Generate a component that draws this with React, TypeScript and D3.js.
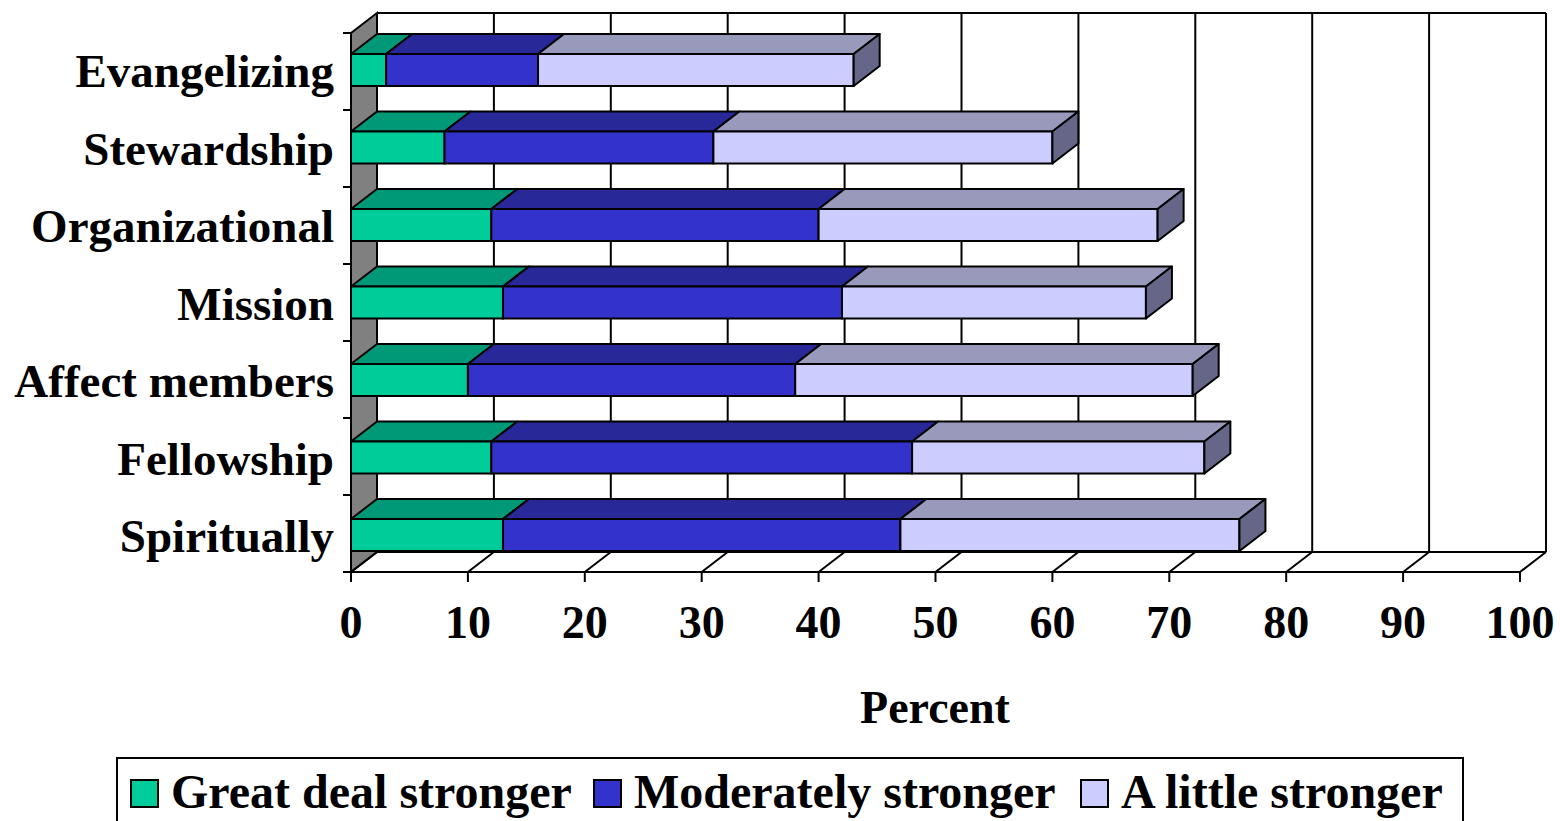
import React from "react";
import * as d3 from "d3";

const categories = ["Evangelizing", "Stewardship", "Organizational", "Mission", "Affect members", "Fellowship", "Spiritually"];
const seriesNames = ["Great deal stronger", "Moderately stronger", "A little stronger"];
const greatDeal = [3, 8, 12, 13, 10, 12, 13];
const moderately = [13, 23, 28, 29, 28, 36, 34];
const aLittle = [27, 29, 29, 26, 34, 25, 29];
const xTicks = [0, 10, 20, 30, 40, 50, 60, 70, 80, 90, 100];

const frontColors = ["#00CC99", "#3333CC", "#CCCCFF"];
const topColors = ["#009977", "#282899", "#9999BB"];
const sideColors = ["#007755", "#1E1E77", "#666688"];

const FONT = "'Liberation Serif', 'Times New Roman', serif";

export default function App() {
  const W = 1560, H = 821;
  const x = d3.scaleLinear().domain([0, 100]).range([351, 1520]);
  const y = d3.scaleBand<string>().domain(categories).range([54, 551]).paddingInner(1 - 32 / 77.5).paddingOuter(0);
  const dx = 26, dy = -20;
  const floorY = 572, wallTop = 33;
  const series = [greatDeal, moderately, aLittle];
  const stacked = d3.stack<number>().keys(["0", "1", "2"]).value((i, k) => series[+k][i])(d3.range(categories.length));
  const poly = (pts: number[][]) => pts.map((p) => p.join(",")).join(" ");
  const catStep = (floorY - wallTop) / categories.length;

  return (
    <svg width={W} height={H} style={{ display: "block", position: "absolute", left: 0, top: 0 }}>
      <rect x={0} y={0} width={W} height={H} fill="#fff" />
      {/* left wall */}
      <polygon points={poly([[351, wallTop], [351 + dx, wallTop + dy], [351 + dx, floorY + dy], [351, floorY]])} fill="#808080" stroke="#000" strokeWidth={2} />
      {/* back wall gridlines */}
      {xTicks.map((t) => (
        <line key={"g" + t} x1={x(t) + dx} x2={x(t) + dx} y1={wallTop + dy} y2={floorY + dy} stroke="#000" strokeWidth={2} />
      ))}
      <line x1={x(0) + dx} x2={x(100) + dx} y1={wallTop + dy} y2={wallTop + dy} stroke="#000" strokeWidth={2} />
      <line x1={x(0) + dx} x2={x(100) + dx} y1={floorY + dy} y2={floorY + dy} stroke="#000" strokeWidth={2} />
      {/* floor lines */}
      {xTicks.map((t) => (
        <line key={"f" + t} x1={x(t)} x2={x(t) + dx} y1={floorY} y2={floorY + dy} stroke="#000" strokeWidth={2} />
      ))}
      <line x1={x(0)} x2={x(100)} y1={floorY} y2={floorY} stroke="#000" strokeWidth={2} />
      {/* x ticks */}
      {xTicks.map((t) => (
        <g key={"t" + t}>
          <line x1={x(t)} x2={x(t)} y1={floorY} y2={floorY + 10} stroke="#000" strokeWidth={2} />
          <text x={x(t)} y={638} textAnchor="middle" fontFamily={FONT} fontWeight="bold" fontSize={46}>{t}</text>
        </g>
      ))}
      {/* y axis */}
      <line x1={351} x2={351} y1={wallTop} y2={floorY} stroke="#000" strokeWidth={2} />
      {d3.range(categories.length + 1).map((i) => (
        <line key={"yt" + i} x1={343} x2={351} y1={wallTop + i * catStep} y2={wallTop + i * catStep} stroke="#000" strokeWidth={2} />
      ))}
      {categories.map((c) => (
        <text key={"c" + c} x={334} y={(y(c) as number) + y.bandwidth() / 2 + 17} textAnchor="end" fontFamily={FONT} fontWeight="bold" fontSize={47}>{c}</text>
      ))}
      {/* bars */}
      {categories.map((c, i) => {
        const top = y(c) as number;
        const bot = top + y.bandwidth();
        return (
          <g key={"b" + c}>
            {stacked.map((s, k) => {
              const x0 = x(s[i][0]), x1 = x(s[i][1]);
              return (
                <g key={k}>
                  <polygon points={poly([[x0, top], [x0 + dx, top + dy], [x1 + dx, top + dy], [x1, top]])} fill={topColors[k]} stroke="#000" strokeWidth={2} strokeLinejoin="round" />
                  <rect x={x0} y={top} width={x1 - x0} height={bot - top} fill={frontColors[k]} stroke="#000" strokeWidth={2} />
                  {k === stacked.length - 1 && (
                    <polygon points={poly([[x1, top], [x1 + dx, top + dy], [x1 + dx, bot + dy], [x1, bot]])} fill={sideColors[k]} stroke="#000" strokeWidth={2} strokeLinejoin="round" />
                  )}
                </g>
              );
            })}
          </g>
        );
      })}
      {/* axis title */}
      <text x={935} y={723} textAnchor="middle" fontFamily={FONT} fontWeight="bold" fontSize={46}>Percent</text>
      {/* legend */}
      <rect x={117} y={758} width={1346} height={80} fill="#fff" stroke="#000" strokeWidth={2} />
      {seriesNames.map((n, k) => {
        const lx = [131, 594, 1081][k];
        return (
          <g key={"l" + k}>
            <rect x={lx} y={780} width={27} height={27} fill={frontColors[k]} stroke="#000" strokeWidth={2} />
            <text x={lx + 40} y={808} fontFamily={FONT} fontWeight="bold" fontSize={48}>{n}</text>
          </g>
        );
      })}
    </svg>
  );
}
